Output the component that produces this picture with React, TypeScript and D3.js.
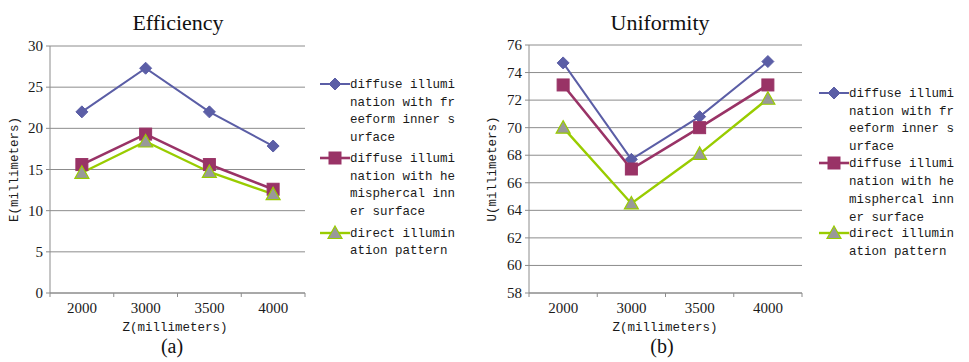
import React from "react";
import * as d3 from "d3";

const categories = ["2000", "3000", "3500", "4000"];
const effFreeform = [22.0, 27.3, 22.0, 17.85];
const effHemi = [15.6, 19.3, 15.6, 12.6];
const effDirect = [14.6, 18.4, 14.7, 12.0];
const uniFreeform = [74.7, 67.7, 70.8, 74.8];
const uniHemi = [73.1, 67.0, 70.0, 73.1];
const uniDirect = [70.0, 64.5, 68.1, 72.1];
const effTicks = [0, 5, 10, 15, 20, 25, 30];
const uniTicks = [58, 60, 62, 64, 66, 68, 70, 72, 74, 76];
const legendLines = [
  ["diffuse illumi", "nation with fr", "eeform inner s", "urface"],
  ["diffuse illumi", "nation with he", "misphercal inn", "er surface"],
  ["direct illumin", "ation pattern"],
];

const colors = ["#5b5ea6", "#993366", "#99cc00"];
const markerFill = ["#5b5ea6", "#993366", "#999999"];
const lineWidths = [2, 2.6, 2.4];
const MONO = "Liberation Mono, Courier New, Cousine, monospace";
const SERIF = "Liberation Serif, Times New Roman, serif";

function Marker({ kind, x, y }: { kind: number; x: number; y: number }) {
  if (kind === 0) {
    const s = 6;
    return (
      <path
        d={`M${x},${y - s}L${x + s},${y}L${x},${y + s}L${x - s},${y}Z`}
        fill={markerFill[0]}
        stroke={colors[0]}
      />
    );
  }
  if (kind === 1) {
    return <rect x={x - 6} y={y - 6} width={12} height={12} fill={markerFill[1]} stroke={colors[1]} />;
  }
  return (
    <path
      d={`M${x},${y - 7}L${x + 7},${y + 5.5}L${x - 7},${y + 5.5}Z`}
      fill={markerFill[2]}
      stroke={colors[2]}
      strokeWidth={1.2}
    />
  );
}

function MonoText({ x, y, text, anchor = "start" }: any) {
  const w = text.length * 7.5;
  let sx = x;
  if (anchor === "middle") sx = x - w / 2;
  return (
    <text
      x={sx}
      y={y}
      style={{ fontFamily: MONO }}
      fontSize={13}
      textLength={w}
      lengthAdjust="spacingAndGlyphs"
      dominantBaseline="central"
      fill="#1a1a1a"
    >
      {text}
    </text>
  );
}

function Panel(props: {
  left: number;
  right: number;
  top: number;
  bottom: number;
  domain: [number, number];
  ticks: number[];
  data: number[][];
  title: string;
  titleX: number;
  ytitle: string;
  ytitleX: number;
  label: string;
  labelX: number;
  xtitleX: number;
  legendX: number;
  legendYs: number[][];
}) {
  const { left, right, top, bottom, domain, ticks, data } = props;
  const x = d3.scaleBand<string>().domain(categories).range([left, right]).padding(0);
  const y = d3.scaleLinear().domain(domain).range([bottom, top]);
  const line = d3
    .line<number>()
    .x((_, i) => x(categories[i])! + x.bandwidth() / 2)
    .y((d) => y(d));
  const bounds = [...categories.map((c) => x(c)!), right];
  return (
    <g>
      {ticks.map((t) => (
        <g key={t}>
          <line x1={left} x2={right} y1={y(t)} y2={y(t)} stroke="#8c8c8c" strokeWidth={1} />
          <line x1={left - 4} x2={left} y1={y(t)} y2={y(t)} stroke="#8c8c8c" />
          <text
            x={left - 7}
            y={y(t)}
            textAnchor="end"
            dominantBaseline="central"
            style={{ fontFamily: SERIF }}
            fontSize={15}
            fill="#1a1a1a"
          >
            {t}
          </text>
        </g>
      ))}
      <line x1={left} x2={left} y1={top} y2={bottom} stroke="#8c8c8c" />
      <line x1={left} x2={right} y1={bottom} y2={bottom} stroke="#8c8c8c" />
      {bounds.map((b, i) => (
        <line key={i} x1={b} x2={b} y1={bottom} y2={bottom + 4} stroke="#8c8c8c" />
      ))}
      {categories.map((c) => (
        <text
          key={c}
          x={x(c)! + x.bandwidth() / 2}
          y={bottom + 15}
          textAnchor="middle"
          dominantBaseline="central"
          style={{ fontFamily: SERIF }}
          fontSize={15}
          fill="#1a1a1a"
        >
          {c}
        </text>
      ))}
      {data.map((s, k) => (
        <path key={k} d={line(s)!} fill="none" stroke={colors[k]} strokeWidth={lineWidths[k]} />
      ))}
      {data.map((s, k) =>
        s.map((v, i) => (
          <Marker key={k + "-" + i} kind={k} x={x(categories[i])! + x.bandwidth() / 2} y={y(v)} />
        ))
      )}
      <text
        x={props.titleX}
        y={22}
        textAnchor="middle"
        dominantBaseline="central"
        style={{ fontFamily: SERIF }}
        fontSize={22}
        fill="#111"
      >
        {props.title}
      </text>
      <MonoText x={props.xtitleX} y={327} text="Z(millimeters)" anchor="middle" />
      <text
        x={props.labelX}
        y={346}
        textAnchor="middle"
        dominantBaseline="central"
        style={{ fontFamily: SERIF }}
        fontSize={20}
        fill="#111"
      >
        {props.label}
      </text>
      <g transform={`translate(${props.ytitleX},${(top + bottom) / 2}) rotate(-90)`}>
        <MonoText x={0} y={0} text={props.ytitle} anchor="middle" />
      </g>
      {legendLines.map((lines, k) => (
        <g key={k}>
          <line
            x1={props.legendX}
            x2={props.legendX + 30}
            y1={props.legendYs[k][0]}
            y2={props.legendYs[k][0]}
            stroke={colors[k]}
            strokeWidth={lineWidths[k]}
          />
          <Marker kind={k} x={props.legendX + 15} y={props.legendYs[k][0]} />
          {lines.map((t, j) => (
            <MonoText key={j} x={props.legendX + 30} y={props.legendYs[k][j]} text={t} />
          ))}
        </g>
      ))}
    </g>
  );
}

export default function App() {
  return (
    <svg
      width={969}
      height={362}
      style={{ position: "absolute", left: 0, top: 0, background: "#fff" }}
    >
      <rect width={969} height={362} fill="#fff" />
      <Panel
        left={50}
        right={305}
        top={46}
        bottom={293}
        domain={[0, 30]}
        ticks={effTicks}
        data={[effFreeform, effHemi, effDirect]}
        title="Efficiency"
        titleX={178}
        ytitle="E(millimeters)"
        ytitleX={14}
        label="(a)"
        labelX={172}
        xtitleX={175}
        legendX={320}
        legendYs={[
          [84, 102, 119, 137],
          [158, 176, 193, 211],
          [233, 250],
        ]}
      />
      <Panel
        left={529}
        right={802}
        top={45}
        bottom={293}
        domain={[58, 76]}
        ticks={uniTicks}
        data={[uniFreeform, uniHemi, uniDirect]}
        title="Uniformity"
        titleX={660}
        ytitle="U(millimeters)"
        ytitleX={492}
        label="(b)"
        labelX={662}
        xtitleX={665}
        legendX={819}
        legendYs={[
          [93, 111, 128, 146],
          [163, 181, 199, 217],
          [233, 251],
        ]}
      />
    </svg>
  );
}
